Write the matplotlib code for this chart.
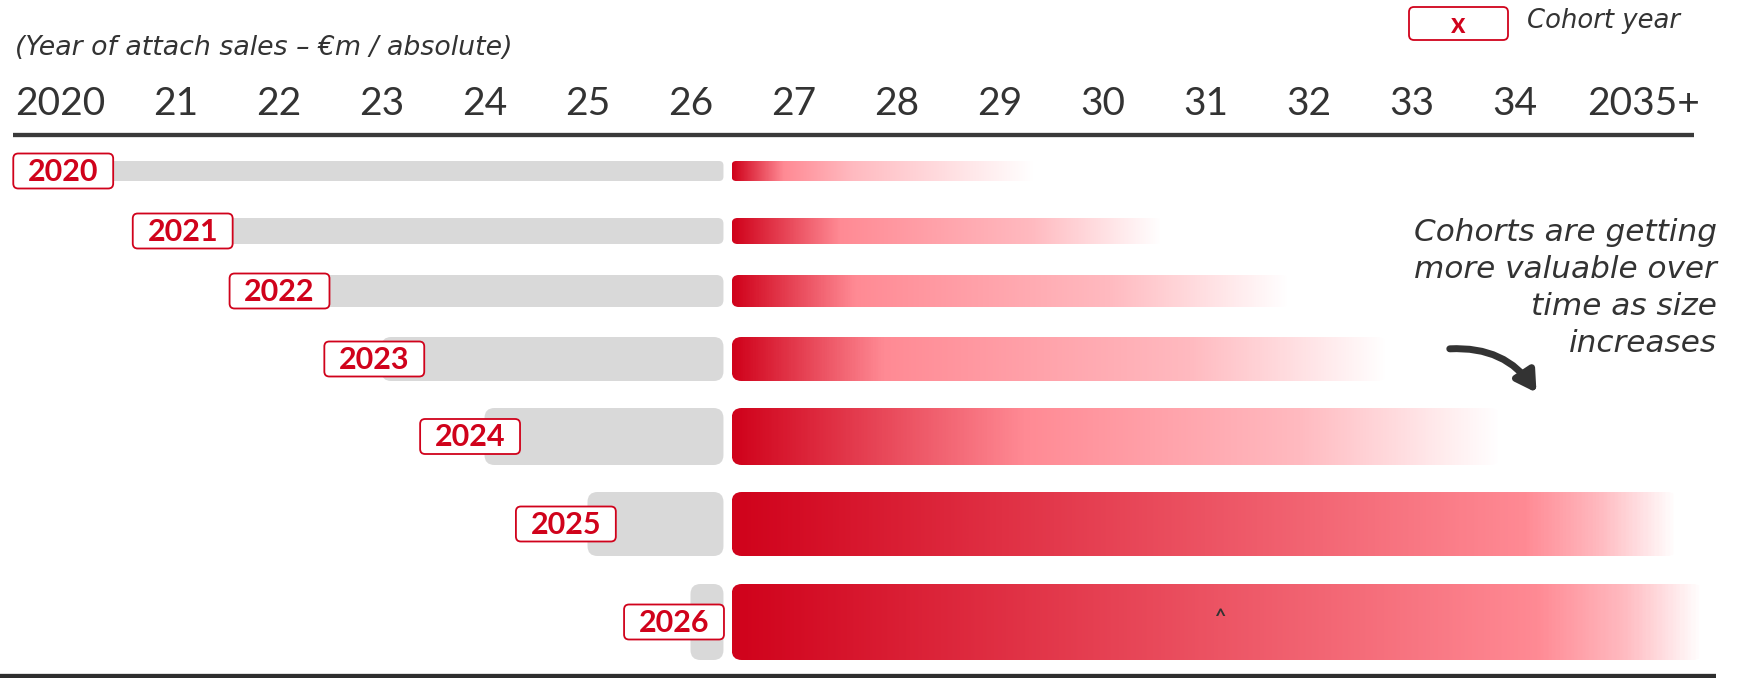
import numpy as np
import matplotlib
matplotlib.use('Agg')
import matplotlib.pyplot as plt
from matplotlib.patches import FancyBboxPatch, FancyArrowPatch
from matplotlib.colors import LinearSegmentedColormap

# --- data ---------------------------------------------------------------
years = list(range(2020, 2036))
year_labels = ['2020', '21', '22', '23', '24', '25', '26', '27', '28', '29',
               '30', '31', '32', '33', '34', '2035+']

cohorts = [2020, 2021, 2022, 2023, 2024, 2025, 2026]
cohort_size = [20, 26, 32, 44, 57, 64, 76]          # bar thickness ~ cohort value
actuals_end = 2026.32                                # grey part (attach sales so far)
forecast_start = 2026.40
forecast_end = [2029.33, 2030.57, 2031.80, 2032.76, 2033.86, 2035.58, 2035.83]

subtitle = '(Year of attach sales \u2013 \u20acm / absolute)'
note = 'Cohorts are getting\nmore valuable over\ntime as size\nincreases'

# --- styling / layout ---------------------------------------------------
RED = '#D0021B'
PINK = '#FF8A94'
PALE = '#FFBAC0'
GREY = '#D9D9D9'
DARK = '#333333'
pink_at = [0.17, 0.25, 0.22, 0.23, 0.38, 0.84, 0.83]
pale_at = [0.40, 0.70, 0.68, 0.70, 0.74, 0.92, 0.92]
label_shift = [-0.09, 0.07, 0.01, -0.07, -0.14, -0.21, -0.16]
row_gaps = [37, 31, 30, 27, 27, 28]
first_top = 161

W, H = 1742, 678
PX = 103.0           # pixels per year
X0 = 72.5            # pixel position of 2020

plt.rcParams['font.family'] = ['Lato', 'DejaVu Sans']

fig = plt.figure(figsize=(W / 100, H / 100), dpi=100)
ax = fig.add_axes([0, 0, 1, 1])


def px2yr(p):
    return 2020 + (p - X0) / PX


def rbox(x, y, w, h, r, **kw):
    # rounded box, r in pixels; mutation_aspect keeps corners circular
    return FancyBboxPatch((x, y), w, h,
                          boxstyle=f'round,pad=0,rounding_size={r / PX}',
                          mutation_aspect=PX, **kw)


# header year labels + rules
for yr, lab in zip(years, year_labels):
    if lab == '2020':
        ax.text(px2yr(15), 115, lab, ha='left', va='baseline', fontsize=28, color=DARK)
    elif lab.endswith('+'):
        ax.text(px2yr(1700), 115, lab, ha='right', va='baseline', fontsize=28, color=DARK)
    else:
        ax.text(yr, 115, lab, ha='center', va='baseline', fontsize=28, color=DARK)
ax.plot([px2yr(13), px2yr(1694)], [134.5, 134.5], color='#3a3a3a', lw=3.1,
        solid_capstyle='butt')
ax.plot([px2yr(0), px2yr(1716)], [676, 676], color='#2e2e2e', lw=3.1,
        solid_capstyle='butt')

ax.text(px2yr(15), 48, subtitle, ha='left', va='center', fontsize=19.3,
        style='italic', family=['DejaVu Sans'], color=DARK)

# legend
ax.add_patch(rbox(px2yr(1409), 7, 99 / PX, 33, 5, fc='white', ec=RED, lw=1.3))
ax.text(px2yr(1458.5), 25, 'x', ha='center', va='center', fontsize=20,
        fontweight='bold', color=RED)
ax.text(px2yr(1527), 21, 'Cohort year', ha='left', va='center', fontsize=18.6,
        style='italic', family=['DejaVu Sans'], color=DARK)

# bars
grad = np.linspace(0, 1, 600)[np.newaxis, :]
top = first_top
for i, (c, h) in enumerate(zip(cohorts, cohort_size)):
    if i > 0:
        top += cohort_size[i - 1] + row_gaps[i - 1]
    yc = top + h / 2
    r = min(10, h * 0.22)

    ax.add_patch(rbox(c, top, actuals_end - c, h, r, fc=GREY, ec='none', zorder=1))

    cmap = LinearSegmentedColormap.from_list(
        f'fade{i}', [(0, RED), (pink_at[i], PINK), (pale_at[i], PALE), (1, 'white')])
    clip = rbox(forecast_start, top, forecast_end[i] - forecast_start, h, r,
                fc='none', ec='none')
    ax.add_patch(clip)
    im = ax.imshow(grad, extent=[forecast_start, forecast_end[i], top + h, top],
                   cmap=cmap, aspect='auto', interpolation='bilinear', zorder=2)
    im.set_clip_path(clip)

    # cohort label box
    bx = c + label_shift[i]
    ax.add_patch(rbox(bx - 0.485, yc - 17.5, 0.97, 35, 5, fc='white', ec=RED,
                      lw=1.3, zorder=3))
    ax.text(bx, yc + 1, str(c), ha='center', va='center', fontsize=22,
            fontweight='bold', color=RED, zorder=4)

# note + arrow
ax.text(px2yr(1717), 288, note, ha='right', va='center', fontsize=22.4,
        style='italic', family=['DejaVu Sans'], color=DARK, linespacing=1.34)
arrow = FancyArrowPatch((px2yr(1447), 349), (px2yr(1538), 395),
                        connectionstyle='arc3,rad=-0.3',
                        arrowstyle='-|>,head_length=12,head_width=7',
                        lw=5, color=DARK, zorder=5)
ax.add_patch(arrow)

ax.text(px2yr(1220), 618, '^', ha='center', va='center', fontsize=14,
        fontweight='bold', color=DARK, zorder=5)

ax.set_xlim(px2yr(0), px2yr(W))
ax.set_ylim(H, 0)
ax.axis('off')

fig.savefig('out.png', dpi=100)
